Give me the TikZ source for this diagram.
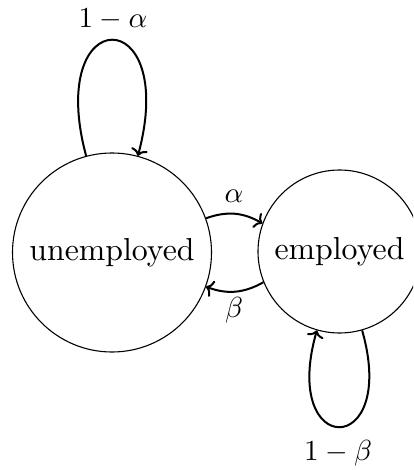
\documentclass[tikz,border=0pt]{standalone}
\usetikzlibrary{arrows.meta}
\begin{document}
\begin{tikzpicture}[x=1pt,y=1pt,
  state/.style={circle,draw,line width=1.1pt,inner sep=0pt},
  trans/.style={line width=2pt,-{To[length=7pt,width=17pt]}},
  lbl/.style={inner sep=0pt}]
\useasboundingbox (0,0) rectangle (413,-470);
\clip (0,0) rectangle (413,-470);
\node[state,minimum size=199pt] (u) at (112,-252.5) {\scalebox{3.18}{unemployed}};
\node[state,minimum size=163pt] (e) at (339.5,-251.5) {\scalebox{3.18}{employed}};
\draw[trans] (u.105) .. controls +(105:160) and +(75:160) .. (u.75);
\draw[trans] (e.-74) .. controls +(-74:134) and +(-106:134) .. (e.-106);
\draw[trans] (u.20) to[bend left=25] (e.160);
\draw[trans] (e.-158) to[bend left=25] (u.-20);
\node[lbl] (la) at (113,-19.5) {\scalebox{2.9}{$1-\alpha$}};
\node[lbl] (lb) at (338,-453) {\scalebox{2.9}{$1-\beta$}};
\node[lbl] (a) at (234,-196) {\scalebox{2.9}{$\alpha$}};
\node[lbl] (b) at (234,-310) {\scalebox{2.9}{$\beta$}};
\end{tikzpicture}
\end{document}
